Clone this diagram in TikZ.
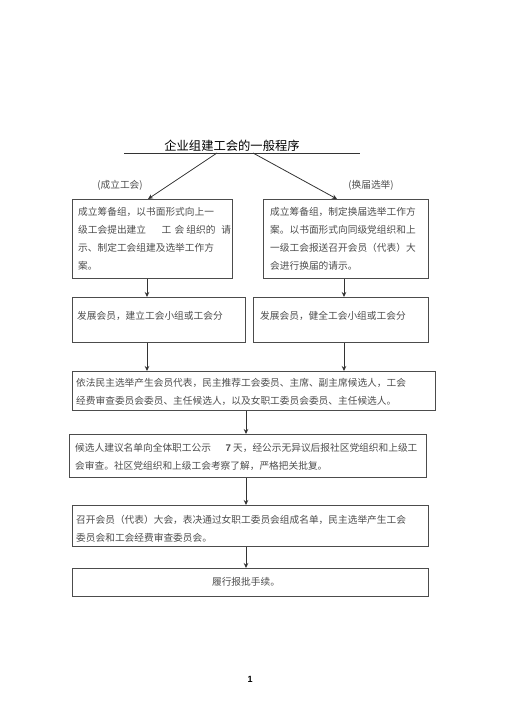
\documentclass[tikz,border=0pt]{standalone}
\usepackage{fontspec}
\setmainfont{Liberation Serif}
\newfontfamily\cjk{Noto Sans CJK SC}
\newfontfamily\numfont{Liberation Sans}
\usetikzlibrary{arrows.meta}
\begin{document}
\begin{tikzpicture}[x=1pt,y=-1pt,
  box/.style={draw=black!70,line width=0.8pt,inner sep=0pt,anchor=north west},
  txt/.style={inner sep=0pt,anchor=west,font=\cjk\fontsize{9.7}{12}\selectfont,text=black!70},
  arr/.style={draw=black!80,line width=0.8pt,-{Stealth[length=5pt,width=4.5pt]}}]
\useasboundingbox (0,0) rectangle (505,714);
% title
\node[inner sep=0pt,font=\cjk\fontsize{12.3}{14}\selectfont] (title) at (232,146) {企业组建工会的一般程序};
\coordinate (ulA) at (124,153);
\coordinate (ulB) at (360,153);
\draw[black!80,line width=0.8pt] (ulA) -- (ulB);
\coordinate (sL) at (217,153);
\coordinate (sR) at (253,153);
% boxes
\node[box,minimum width=160,minimum height=79] (b1l) at (72,199) {};
\node[box,minimum width=165,minimum height=79] (b1r) at (263,199) {};
\node[box,minimum width=173,minimum height=45] (b2l) at (72,297) {};
\node[box,minimum width=175,minimum height=45] (b2r) at (253,297) {};
\node[box,minimum width=363,minimum height=39] (b3) at (72,371) {};
\node[box,minimum width=357,minimum height=43] (b4) at (69,434) {};
\node[box,minimum width=356,minimum height=41] (b5) at (72,505) {};
\node[box,minimum width=356,minimum height=28] (b6) at (72,568) {};
% labels
\node[txt,anchor=center] (labL) at (120,185) {(成立工会)};
\node[txt,anchor=center] (labR) at (371,185) {(换届选举)};
% texts
\node[txt] (t1a) at (78,212) {成立筹备组，以书面形式向上一};
\node[txt] (t1b) at (78,230) {\makebox[133pt][s]{级工会提出建立\hspace{1.6em}工\hspace{0.35em}会\hspace{0.2em}组织的\hspace{0.6em}请}};
\node[txt] (t1c) at (78,248) {示、制定工会组建及选举工作方};
\node[txt] (t1d) at (78,266) {案。};
\node[txt] (t2a) at (270,212) {成立筹备组，制定换届选举工作方};
\node[txt] (t2b) at (270,230) {案。以书面形式向同级党组织和上};
\node[txt] (t2c) at (270,248) {一级工会报送召开会员（代表）大};
\node[txt] (t2d) at (270,266) {会进行换届的请示。};
\node[txt] (t3) at (77,316) {发展会员，建立工会小组或工会分};
\node[txt] (t4) at (260,316) {发展会员，健全工会小组或工会分};
\node[txt] (t5a) at (76,383) {依法民主选举产生会员代表，民主推荐工会委员、主席、副主席候选人，工会};
\node[txt] (t5b) at (76,401) {经费审查委员会委员、主任候选人，以及女职工委员会委员、主任候选人。};
\node[txt] (t6a) at (75,448) {候选人建议名单向全体职工公示\hspace{1.5em}{\numfont\bfseries 7} 天，经公示无异议后报社区党组织和上级工};
\node[txt] (t6b) at (75,466) {会审查。社区党组织和上级工会考察了解，严格把关批复。};
\node[txt] (t7a) at (76,520) {召开会员（代表）大会，表决通过女职工委员会组成名单，民主选举产生工会};
\node[txt] (t7b) at (76,538) {委员会和工会经费审查委员会。};
\node[txt,anchor=center] (t8) at (246,582) {履行报批手续。};
% page number
\node[inner sep=0pt,font=\numfont\bfseries\fontsize{9}{10}\selectfont] (pg) at (250,679) {1};
% connector columns
\coordinate (xl) at (147,0);
\coordinate (xr) at (344,0);
\coordinate (xm) at (246,0);
\draw[arr] (sL) -- (b1l.north -| 148,0);
\draw[arr] (sR) -- (b1r.north -| 337,0);
\draw[arr] (b1l.south -| xl) -- (b2l.north -| xl);
\draw[arr] (b1r.south -| xr) -- (b2r.north -| xr);
\draw[arr] (b2l.south -| xl) -- (b3.north -| xl);
\draw[arr] (b2r.south -| xr) -- (b3.north -| xr);
\draw[arr] (b3.south -| xm) -- (b4.north -| xm);
\draw[arr] (b4.south -| xm) -- (b5.north -| xm);
\draw[arr] (b5.south -| xm) -- (b6.north -| xm);
\end{tikzpicture}
\end{document}
